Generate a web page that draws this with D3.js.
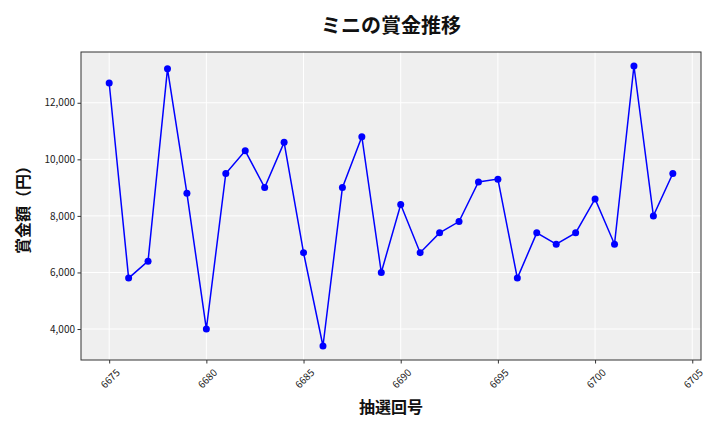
<!DOCTYPE html>
<html>
<head>
<meta charset="utf-8">
<script src="https://cdn.jsdelivr.net/npm/d3@7/dist/d3.min.js"></script>
<style>
  body { margin: 0; background: #fff; }
  text { font-family: "Noto Sans CJK JP", "DejaVu Sans", sans-serif; }
</style>
</head>
<body>
<svg id="chart" width="720" height="432"></svg>
<script>
const draws = [6675,6676,6677,6678,6679,6680,6681,6682,6683,6684,6685,6686,6687,6688,6689,6690,6691,6692,6693,6694,6695,6696,6697,6698,6699,6700,6701,6702,6703,6704];
const prizes = [12700,5800,6400,13200,8800,4000,9500,10300,9000,10600,6700,3400,9000,10800,6000,8400,6700,7400,7800,9200,9300,5800,7400,7000,7400,8600,7000,13300,8000,9500];
const xTicks = [6675,6680,6685,6690,6695,6700,6705];
const yTicks = [4000,6000,8000,10000,12000];
const titleText = "ミニの賞金推移";
const xLabel = "抽選回号";
const yLabel = "賞金額（円）";

const svg = d3.select("#chart");
const pL = 81, pR = 701, pT = 52, pB = 360;

const xMin = d3.min(draws), xMax = d3.max(draws);
const xPad = (xMax - xMin) * 0.05;
const x = d3.scaleLinear().domain([xMin - xPad, xMax + xPad]).range([pL, pR]);
const yMin = d3.min(prizes), yMax = d3.max(prizes);
const yPad = (yMax - yMin) * 0.05;
const y = d3.scaleLinear().domain([yMin - yPad, yMax + yPad]).range([pB, pT]);

svg.append("rect").attr("x", pL).attr("y", pT).attr("width", pR - pL).attr("height", pB - pT).attr("fill", "#efefef");

// grid
svg.append("g").selectAll("line").data(xTicks).join("line")
  .attr("x1", d => x(d)).attr("x2", d => x(d)).attr("y1", pT).attr("y2", pB)
  .attr("stroke", "#fff").attr("stroke-width", 1);
svg.append("g").selectAll("line").data(yTicks).join("line")
  .attr("y1", d => y(d)).attr("y2", d => y(d)).attr("x1", pL).attr("x2", pR)
  .attr("stroke", "#fff").attr("stroke-width", 1);

// axes
const fmt = d3.format(",");
const xAxis = svg.append("g").attr("transform", `translate(0,${pB})`)
  .call(d3.axisBottom(x).tickValues(xTicks).tickFormat(d3.format("d")).tickSize(3.5).tickSizeOuter(0));
xAxis.select(".domain").remove();
xAxis.selectAll(".tick line").attr("stroke", "#333");
xAxis.selectAll(".tick text")
  .attr("font-size", 10).attr("fill", "#222")
  .attr("text-anchor", "middle").attr("dominant-baseline", "central").attr("dy", 0).attr("dx", 0).attr("y", 0)
  .attr("transform", "translate(0,18) rotate(-45)");

const yAxis = svg.append("g").attr("transform", `translate(${pL},0)`)
  .call(d3.axisLeft(y).tickValues(yTicks).tickFormat(fmt).tickSize(3.5).tickSizeOuter(0));
yAxis.select(".domain").remove();
yAxis.selectAll(".tick line").attr("stroke", "#333");
yAxis.selectAll(".tick text").attr("font-size", 10).attr("fill", "#222").attr("x", -6);

// frame
svg.append("rect").attr("x", pL).attr("y", pT).attr("width", pR - pL).attr("height", pB - pT)
  .attr("fill", "none").attr("stroke", "#333").attr("stroke-width", 1);

// line
const pts = draws.map((d, i) => [d, prizes[i]]);
svg.append("path").datum(pts)
  .attr("d", d3.line().x(d => x(d[0])).y(d => y(d[1])))
  .attr("fill", "none").attr("stroke", "#0000ff").attr("stroke-width", 1.5);
svg.append("g").selectAll("circle").data(pts).join("circle")
  .attr("cx", d => x(d[0])).attr("cy", d => y(d[1])).attr("r", 3.5).attr("fill", "#0000ff");

// labels
svg.append("text").attr("x", (pL + pR) / 2).attr("y", 33).attr("text-anchor", "middle")
  .attr("font-size", 20).attr("font-weight", "bold").attr("fill", "#111").text(titleText);
svg.append("text").attr("x", (pL + pR) / 2).attr("y", 413).attr("text-anchor", "middle")
  .attr("font-size", 16).attr("font-weight", "bold").attr("fill", "#111").text(xLabel);
svg.append("text").attr("transform", `translate(29,${(pT + pB) / 2}) rotate(-90)`).attr("text-anchor", "middle")
  .attr("font-size", 16).attr("font-weight", "bold").attr("fill", "#111").text(yLabel);
</script>
</body>
</html>
